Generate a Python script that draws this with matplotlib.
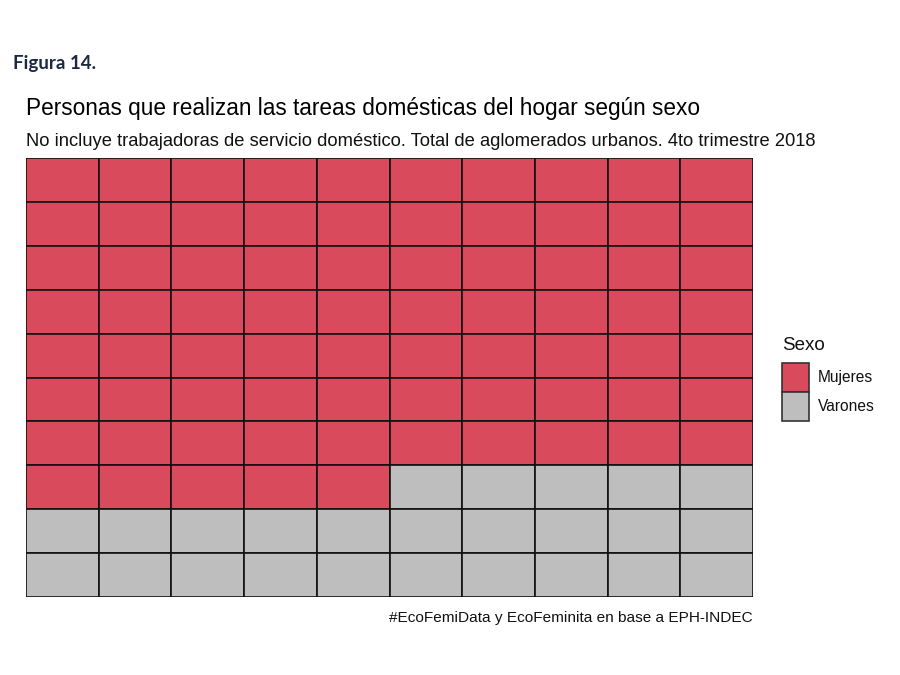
import matplotlib.pyplot as plt
from matplotlib.patches import Rectangle

categories = ["Mujeres", "Varones"]
counts = [75, 25]
colors = ["#D84A5C", "#BEBEBE"]
n_cols = 10
n_rows = 10

title = "Personas que realizan las tareas domésticas del hogar según sexo"
subtitle = "No incluye trabajadoras de servicio doméstico. Total de aglomerados urbanos. 4to trimestre 2018"
caption = "#EcoFemiData y EcoFeminita en base a EPH-INDEC"

plt.rcParams['font.family'] = ['Liberation Sans', 'DejaVu Sans']

fig = plt.figure(figsize=(9, 6.75), dpi=100)
ax = fig.add_axes([26 / 900, 1 - 597 / 675, (753 - 26) / 900, (597 - 158) / 675])

# fill cells row by row from the top, left to right
cell_colors = []
for c, n in zip(colors, counts):
    cell_colors += [c] * n
for i, c in enumerate(cell_colors):
    row = i // n_cols
    col = i % n_cols
    ax.bar(col, 1, bottom=n_rows - 1 - row, width=1, align='edge',
           color=c, edgecolor='#111111', linewidth=1.2)

ax.set_xlim(0, n_cols)
ax.set_ylim(0, n_rows)
ax.axis('off')

fig.text(13 / 900, 1 - 63 / 675, "Figura 14.", family=['Lato', 'DejaVu Sans'],
         fontweight='bold', fontsize=13.5, color='#1c2940', va='center', ha='left')
fig.text(26 / 900, 1 - 109 / 675, title, fontsize=16.3, color='black', va='center', ha='left')
fig.text(26 / 900, 1 - 141 / 675, subtitle, fontsize=13.2, color='#111111', va='center', ha='left')
fig.text(753 / 900, 1 - 618 / 675, caption, fontsize=11.1, color='#111111', va='center', ha='right')

# legend drawn by hand so the keys match the reference size
fig.text(782 / 900, 1 - 346 / 675, "Sexo", fontsize=13.5, color='#111111', va='center', ha='left')
key_w, key_h = 27, 29
for k, (c, label) in enumerate(zip(colors, categories)):
    top = 363 + k * key_h
    fig.add_artist(Rectangle((782 / 900, 1 - (top + key_h) / 675), key_w / 900, key_h / 675,
                             transform=fig.transFigure, facecolor=c,
                             edgecolor='#333333', linewidth=1.2))
    fig.text(818 / 900, 1 - (top + key_h / 2) / 675, label, fontsize=11.2,
             color='#111111', va='center', ha='left')

fig.savefig("out.png", dpi=100)
